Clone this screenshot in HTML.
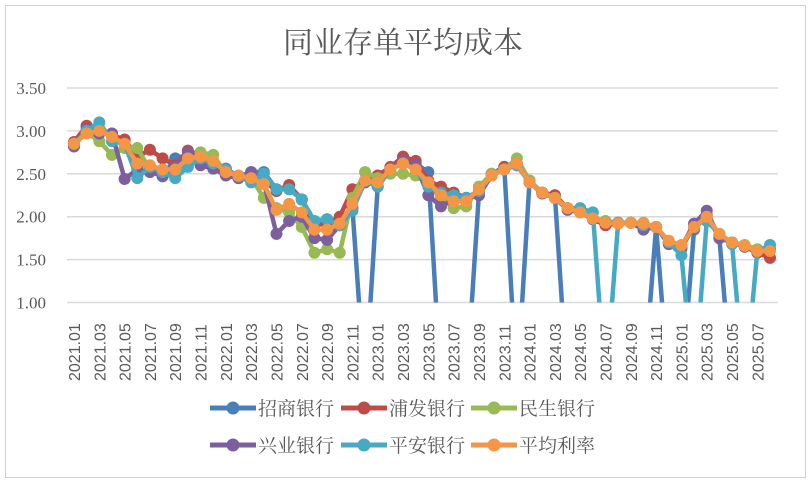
<!DOCTYPE html>
<html><head><meta charset="utf-8"><style>
body{margin:0;background:#fff;}
svg{display:block;}
</style></head><body>
<svg id="chart" width="811" height="486" xmlns="http://www.w3.org/2000/svg">
<rect x="5.5" y="5.5" width="800" height="472" fill="#fff" stroke="#d0d0d0"/>
<text x="403" y="53" text-anchor="middle" font-family="'Liberation Serif','Noto Serif CJK SC',serif" font-size="30" fill="#595959">同业存单平均成本</text>
<defs><clipPath id="pc"><rect x="60" y="70" width="740" height="232.5"/></clipPath></defs>
<g id="grid"></g>
<g id="series" clip-path="url(#pc)"></g>
<g id="xlabels"></g>
<g id="legend"></g>
</svg>
<script>
const months=["2021.01","2021.02","2021.03","2021.04","2021.05","2021.06","2021.07","2021.08","2021.09","2021.10","2021.11","2021.12","2022.01","2022.02","2022.03","2022.04","2022.05","2022.06","2022.07","2022.08","2022.09","2022.10","2022.11","2022.12","2023.01","2023.02","2023.03","2023.04","2023.05","2023.06","2023.07","2023.08","2023.09","2023.10","2023.11","2023.12","2024.01","2024.02","2024.03","2024.04","2024.05","2024.06","2024.07","2024.08","2024.09","2024.10","2024.11","2024.12","2025.01","2025.02","2025.03","2025.04","2025.05","2025.06","2025.07","2025.08"];
const yTicks=[1.00,1.50,2.00,2.50,3.00,3.50];
const seriesNames=["招商银行","浦发银行","民生银行","兴业银行","平安银行","平均利率"];
const cmb=[2.82,3.05,2.98,2.97,2.88,2.62,2.58,2.47,2.68,2.72,2.63,2.58,2.56,2.47,2.52,2.52,2.32,2.35,2.2,1.95,1.97,1.95,2.1,0,2.35,2.55,2.68,2.62,2.52,0,0,0,2.28,2.5,2.58,0,2.42,2.28,2.25,0,0,0,0,0,0,0,1.88,0,0,1.85,2.02,1.75,0,0,0,0];
const spd=[2.87,3.06,3.00,2.95,2.90,2.70,2.78,2.68,2.60,2.77,2.72,2.63,2.55,2.46,2.50,2.42,2.30,2.37,2.20,1.90,1.92,2.00,2.32,2.42,2.48,2.58,2.70,2.65,2.42,2.35,2.28,2.22,2.30,2.48,2.58,2.60,2.40,2.28,2.25,2.10,2.05,1.97,1.90,1.92,1.93,1.90,1.88,1.70,1.63,1.90,2.00,1.78,1.70,1.65,1.58,1.52];
const cmbc=[2.85,2.98,2.88,2.72,2.80,2.80,2.55,2.55,2.52,2.62,2.75,2.72,2.50,2.45,2.45,2.22,2.10,2.05,1.88,1.58,1.62,1.58,2.22,2.52,2.45,2.50,2.50,2.48,2.38,2.22,2.10,2.12,2.35,2.50,2.55,2.68,2.42,2.28,2.22,2.10,2.05,1.98,1.95,1.93,1.93,1.93,1.88,1.70,1.65,1.90,1.98,1.78,1.70,1.67,1.62,1.62];
const cib=[2.82,3.02,2.97,2.97,2.44,2.55,2.52,2.48,2.58,2.75,2.60,2.56,2.48,2.45,2.52,2.40,1.80,1.95,2.00,1.75,1.73,1.90,2.10,2.40,2.40,2.55,2.65,2.60,2.25,2.12,2.20,2.22,2.25,2.48,2.55,2.62,2.40,2.27,2.22,2.08,2.05,1.98,1.93,1.93,1.93,1.85,1.88,1.68,1.65,1.92,2.07,1.75,1.70,1.65,1.60,1.62];
const pab=[2.85,3.00,3.10,2.88,2.85,2.45,2.58,2.52,2.45,2.58,2.68,2.62,2.55,2.47,2.40,2.50,2.32,2.32,2.20,1.95,1.97,1.90,2.07,2.42,2.35,2.55,2.62,2.55,2.35,2.28,2.25,2.22,2.30,2.48,2.55,2.60,2.40,2.28,2.22,2.10,2.10,2.05,0,1.93,1.93,1.90,1.88,1.70,1.55,0,1.95,1.80,1.68,0,1.60,1.67];
const avg=[2.85,2.97,3.00,2.93,2.85,2.62,2.60,2.55,2.55,2.68,2.70,2.65,2.52,2.48,2.45,2.38,2.08,2.15,2.05,1.85,1.85,1.92,2.15,2.42,2.40,2.55,2.62,2.55,2.40,2.25,2.18,2.18,2.32,2.48,2.55,2.62,2.40,2.28,2.22,2.10,2.05,1.98,1.93,1.92,1.93,1.92,1.88,1.72,1.67,1.88,2.00,1.80,1.70,1.66,1.60,1.60];

const NS="http://www.w3.org/2000/svg";
const X0=74,X1=770,Y0=302.5,YTOP=88;
function xs(i){return X0+(X1-X0)*i/(months.length-1);}
function ys(v){return Y0-(v-1)*(Y0-YTOP)/2.5;}
function mk(tag,attrs,parent){const e=document.createElementNS(NS,tag);for(const k in attrs)e.setAttribute(k,attrs[k]);parent.appendChild(e);return e;}

const grid=document.getElementById('grid');
yTicks.forEach(t=>{
  const y=ys(t);
  const l=mk('line',{x1:67,x2:778,y1:y,y2:y,stroke:'#d9d9d9','stroke-width':1.5},grid);
  
  
  const tx=mk('text',{x:46,y:y+6,'text-anchor':'end','font-family':"'Liberation Serif',serif",'font-size':17,fill:'#595959'},grid);
  tx.textContent=t.toFixed(2);
  
  
});

const xl=document.getElementById('xlabels');
months.forEach((m,i)=>{
  if(i%2!==0)return;
  const x=xs(i);
  const t=mk('text',{x:0,y:0,transform:`translate(${x+6},381) rotate(-90)`,'font-family':"'Liberation Sans',sans-serif",'font-size':16,fill:'#595959'},xl);
  t.textContent=m;
  
  
});

const colors=['#4a7ebb','#be4b48','#98b954','#7d5fa0','#46aac5','#f59646'];
const data=[cmb,spd,cmbc,cib,pab,avg];
const sg=document.getElementById('series');
data.forEach((arr,s)=>{
  const g=mk('g',{},sg);
  
  
  const pts=arr.map((v,i)=>xs(i)+','+ys(v)).join(' ');
  const pl=mk('polyline',{points:pts,fill:'none',stroke:colors[s],'stroke-width':4.5,'stroke-linejoin':'round'},g);
  
  
  arr.forEach((v,i)=>{
    const c=mk('circle',{cx:xs(i),cy:ys(v),r:6,fill:colors[s]},g);
    
    
  });
});

const lg=document.getElementById('legend');
const lpos=[[210,408],[341,408],[471,408],[210,445],[341,445],[471,445]];
seriesNames.forEach((n,s)=>{
  const [x,y]=lpos[s];
  const g=mk('g',{},lg);
  
  
  mk('line',{x1:x,x2:x+46,y1:y,y2:y,stroke:colors[s],'stroke-width':5},g);
  mk('circle',{cx:x+23,cy:y,r:6.5,fill:colors[s]},g);
  const t=mk('text',{x:x+48,y:y+7,'font-family':"'Liberation Serif','Noto Serif CJK SC',serif",'font-size':19,fill:'#595959'},g);
  t.textContent=n;
});
</script>
</body></html>
